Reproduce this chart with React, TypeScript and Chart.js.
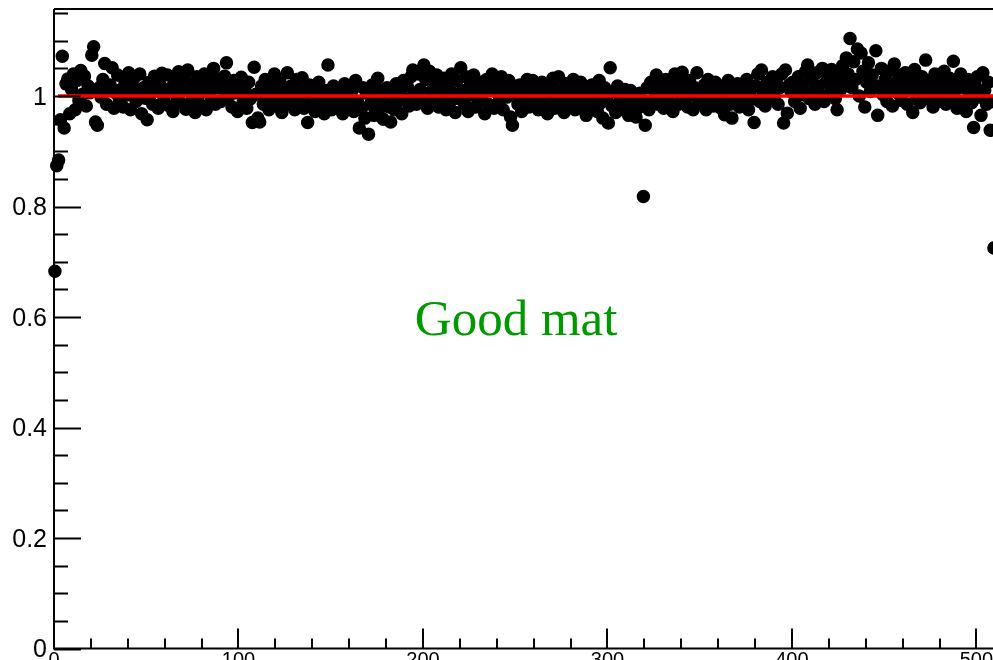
import React, { useEffect, useRef } from 'react';
import { Chart, registerables } from 'chart.js';

Chart.register(...registerables);

// Ratio per channel (index = channel number, plotted at bin centre)
const RATIO: number[] = [
  0.683, 0.874, 0.884, 0.957, 1.072, 0.942, 1.022, 1.031, 0.968, 1.012,
  1.040, 0.975, 1.028, 0.992, 1.046, 1.003, 1.036, 0.982, 1.018, 1.006,
  1.074, 1.089, 0.953, 0.947, 1.015, 0.998, 1.030, 1.059, 0.985, 1.010,
  1.020, 1.051, 0.978, 1.005, 1.038, 0.992, 1.012, 0.980, 1.026, 1.002,
  1.042, 0.975, 1.018, 1.033, 0.990, 1.008, 1.040, 0.968, 1.015, 0.996,
  0.957, 1.025, 1.003, 0.985, 1.036, 1.010, 0.978, 1.020, 1.041, 0.993,
  1.005, 1.038, 0.982, 1.015, 0.972, 1.028, 1.000, 1.044, 0.988, 1.012,
  1.032, 0.976, 1.047, 1.008, 0.990, 1.022, 0.970, 1.035, 1.002, 0.984,
  1.018, 1.040, 0.975, 1.010, 1.028, 0.994, 1.050, 0.985, 1.015, 1.030,
  0.990, 1.012, 1.036, 1.060, 0.998, 1.020, 0.980, 1.028, 1.006, 0.972,
  1.015, 1.034, 0.988, 1.010, 0.978, 1.025, 0.995, 0.952, 1.052, 1.003,
  0.960, 0.953, 1.018, 0.985, 1.030, 1.005, 0.975, 1.022, 0.992, 1.040,
  1.008, 0.982, 1.026, 0.970, 1.012, 0.996, 1.042, 0.985, 1.018, 1.002,
  0.975, 1.030, 0.990, 1.010, 1.033, 0.978, 1.005, 0.952, 1.020, 0.988,
  1.015, 0.972, 1.008, 1.025, 0.985, 1.000, 0.968, 1.010, 1.056, 0.990,
  0.975, 1.018, 0.995, 1.005, 0.980, 1.012, 0.968, 1.022, 0.990, 1.002,
  0.985, 1.010, 0.972, 1.028, 0.990, 0.942, 0.975, 1.015, 0.960, 1.005,
  0.931, 0.985, 1.020, 0.965, 0.998, 1.032, 0.978, 1.010, 0.958, 0.992,
  1.015, 0.980, 0.953, 1.005, 0.975, 1.022, 0.990, 1.010, 0.968, 1.028,
  0.995, 1.018, 0.982, 1.035, 1.047, 1.005, 0.985, 1.040, 1.012, 0.992,
  1.056, 1.030, 0.978, 1.045, 1.008, 0.990, 1.026, 1.038, 0.980, 1.015,
  1.000, 1.032, 0.975, 1.020, 0.988, 1.040, 1.005, 0.970, 1.028, 0.995,
  1.051, 1.010, 0.985, 1.035, 0.972, 1.018, 1.002, 1.038, 0.980, 1.012,
  0.990, 1.025, 1.005, 0.968, 1.030, 0.985, 1.015, 1.040, 0.978, 1.008,
  1.022, 0.992, 1.035, 0.975, 1.010, 0.998, 1.028, 0.962, 0.947, 1.018,
  1.005, 0.985, 1.020, 0.972, 1.012, 0.995, 1.030, 0.980, 1.008, 1.028,
  0.990, 1.015, 0.975, 1.002, 1.025, 0.985, 1.010, 0.968, 1.020, 0.998,
  1.032, 0.978, 1.012, 1.035, 0.988, 1.005, 0.970, 1.022, 1.000, 0.985,
  1.018, 1.030, 0.975, 1.008, 0.992, 1.025, 0.982, 1.012, 0.965, 1.000,
  0.985, 1.020, 0.995, 1.010, 0.972, 1.028, 0.988, 0.960, 1.015, 0.998,
  0.951, 1.051, 0.982, 1.008, 0.970, 1.018, 0.990, 1.002, 0.975, 1.012,
  0.995, 0.965, 1.010, 0.985, 1.000, 0.962, 0.978, 1.005, 0.990, 0.818,
  0.947, 1.015, 0.975, 1.025, 0.992, 1.010, 1.038, 0.985, 1.020, 1.002,
  0.978, 1.030, 1.005, 0.990, 1.018, 0.972, 1.040, 1.008, 0.985, 1.022,
  1.043, 0.995, 1.012, 0.980, 1.028, 1.002, 0.975, 1.015, 1.042, 0.990,
  1.008, 0.985, 1.020, 0.975, 1.030, 0.995, 1.012, 0.982, 1.025, 0.990,
  1.005, 0.978, 1.018, 0.966, 1.000, 1.028, 0.985, 0.960, 1.010, 0.992,
  1.022, 0.980, 1.015, 1.002, 0.988, 1.030, 0.975, 1.010, 0.995, 0.952,
  1.018, 1.040, 0.990, 1.047, 1.005, 0.982, 1.025, 1.012, 0.995, 1.035,
  1.000, 1.028, 0.985, 1.015, 1.040, 0.951, 1.047, 0.969, 1.020, 1.008,
  1.025, 0.990, 1.012, 1.035, 0.978, 1.020, 1.002, 1.045, 1.056, 0.995,
  1.030, 1.010, 0.985, 1.042, 1.018, 1.000, 1.050, 0.990, 1.025, 1.038,
  1.005, 1.048, 1.020, 0.995, 0.975, 1.035, 1.012, 1.055, 1.028, 1.069,
  1.040, 1.104, 1.015, 1.062, 1.030, 1.085, 1.000, 1.078, 1.045, 0.980,
  1.025, 1.060, 1.008, 1.038, 1.020, 1.082, 0.965, 1.015, 1.050, 1.002,
  1.030, 0.990, 1.045, 1.012, 0.982, 1.058, 1.025, 1.005, 1.038, 0.992,
  1.020, 1.042, 0.985, 1.010, 1.030, 0.970, 1.048, 1.000, 1.022, 0.988,
  1.035, 1.012, 1.065, 0.995, 1.028, 1.005, 0.980, 1.040, 1.018, 0.990,
  1.025, 1.002, 1.045, 0.985, 1.015, 1.032, 0.995, 1.063, 1.010, 0.978,
  1.022, 1.040, 0.990, 1.015, 0.972, 1.030, 1.005, 0.988, 0.943, 1.018,
  1.035, 0.998, 0.965, 1.042, 1.010, 0.985, 1.025, 0.938, 0.990, 0.725,
];

const FIT_LEVEL = 1.0;
const FIT_RANGE: number[] = [2.2, 509];

const X_MIN = 0;
const X_MAX = 509;
const Y_MIN = 0;
const Y_MAX = 1.1575;

const X_TICK_VALUES: number[] = [0, 100, 200, 300, 400, 500];
const X_TICK_LABELS: string[] = ['0', '100', '200', '300', '400', '500'];
const X_MINOR_STEP = 20;
const Y_TICK_VALUES: number[] = [0, 0.2, 0.4, 0.6, 0.8, 1];
const Y_TICK_LABELS: string[] = ['0', '0.2', '0.4', '0.6', '0.8', '1'];
const Y_MINOR_STEP = 0.05;

const ANNOTATION = 'Good mat';
const ANNOTATION_POS: number[] = [250.5, 0.567];

const rootAxesPlugin = {
  id: 'rootAxes',
  afterDatasetsDraw(chart: any) {
    const { ctx, chartArea, scales } = chart;
    const { left, top, right, bottom } = chartArea;
    const x = scales.x;
    const y = scales.y;
    ctx.save();
    ctx.strokeStyle = '#000';
    ctx.lineWidth = 2;
    ctx.beginPath();
    ctx.moveTo(left, top);
    ctx.lineTo(right + 10, top);
    ctx.moveTo(left, top);
    ctx.lineTo(left, bottom);
    ctx.lineTo(right + 10, bottom);
    ctx.stroke();

    // y ticks
    const nY = Math.round((Y_MAX - Y_MIN) / Y_MINOR_STEP);
    ctx.beginPath();
    for (let k = 0; k <= nY; k++) {
      const v = Y_MIN + k * Y_MINOR_STEP;
      if (v > Y_MAX) break;
      const py = Math.round(y.getPixelForValue(v)) + 0.5;
      const len = k % 4 === 0 ? 27 : 14;
      ctx.moveTo(left, py);
      ctx.lineTo(left + len, py);
    }
    // x ticks
    const nX = Math.floor((X_MAX - X_MIN) / X_MINOR_STEP);
    for (let k = 0; k <= nX; k++) {
      const v = X_MIN + k * X_MINOR_STEP;
      const px = Math.round(x.getPixelForValue(v));
      const len = v % 100 === 0 ? 20 : 10;
      ctx.moveTo(px, bottom);
      ctx.lineTo(px, bottom - len);
    }
    ctx.stroke();

    // labels
    ctx.fillStyle = '#000';
    ctx.font = '25px "Liberation Sans", Arial, sans-serif';
    ctx.textAlign = 'right';
    ctx.textBaseline = 'alphabetic';
    Y_TICK_VALUES.forEach((v, i) => {
      const py = y.getPixelForValue(v);
      ctx.fillText(Y_TICK_LABELS[i], left - 7, py + 8.8);
    });
    ctx.font = '20px "Liberation Sans", Arial, sans-serif';
    ctx.textAlign = 'center';
    X_TICK_VALUES.forEach((v, i) => {
      const px = x.getPixelForValue(v);
      ctx.fillText(X_TICK_LABELS[i], px, bottom + 17.5);
    });

    // annotation
    ctx.font = '51px "Liberation Serif", "Times New Roman", serif';
    ctx.fillStyle = '#009900';
    ctx.textAlign = 'center';
    ctx.fillText(
      ANNOTATION,
      x.getPixelForValue(ANNOTATION_POS[0]),
      y.getPixelForValue(ANNOTATION_POS[1])
    );
    ctx.restore();
  },
};

export default function App() {
  const canvasRef = useRef<HTMLCanvasElement | null>(null);

  useEffect(() => {
    document.body.style.margin = '0';
    document.body.style.overflow = 'hidden';
    const canvas = canvasRef.current;
    if (!canvas) return;
    const points = RATIO.map((v, i) => ({ x: i + 0.5, y: v }));
    const chart = new Chart(canvas, {
      type: 'scatter',
      data: {
        datasets: [
          {
            type: 'line',
            data: [
              { x: FIT_RANGE[0], y: FIT_LEVEL },
              { x: FIT_RANGE[1], y: FIT_LEVEL },
            ],
            borderColor: '#ff0000',
            borderWidth: 3.5,
            pointRadius: 0,
            fill: false,
            order: 0,
            clip: false,
          } as any,
          {
            data: points,
            backgroundColor: '#000',
            borderColor: '#000',
            borderWidth: 1.5,
            pointRadius: 6,
            pointHoverRadius: 6,
            order: 1,
            clip: false,
          } as any,
        ],
      },
      options: {
        responsive: false,
        animation: false,
        devicePixelRatio: 1,
        layout: { autoPadding: false, padding: { left: 54, top: 9, right: 0, bottom: 11.5 } },
        plugins: { legend: { display: false }, tooltip: { enabled: false } },
        events: [],
        scales: {
          x: { type: 'linear', min: X_MIN, max: X_MAX, display: false },
          y: { type: 'linear', min: Y_MIN, max: Y_MAX, display: false },
        },
      },
      plugins: [rootAxesPlugin],
    });
    return () => chart.destroy();
  }, []);

  return (
    <div style={{ width: 993, height: 660, background: '#fff' }}>
      <canvas ref={canvasRef} width={993} height={660} style={{ display: 'block' }} />
    </div>
  );
}
